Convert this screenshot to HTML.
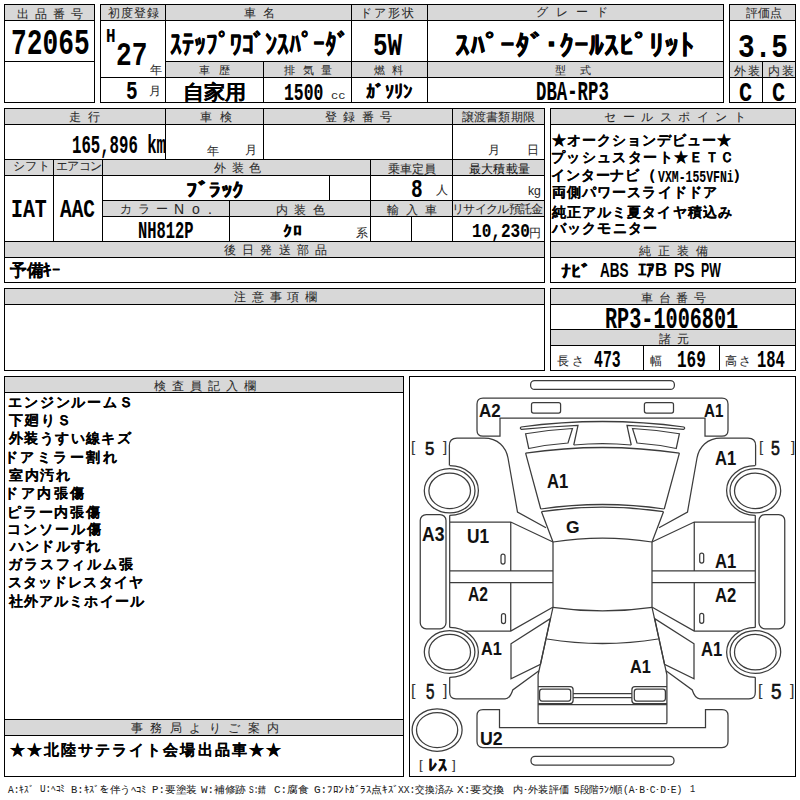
<!DOCTYPE html>
<html><head><meta charset="utf-8"><style>
html,body{margin:0;padding:0;background:#fff;}
body{width:800px;height:800px;position:relative;overflow:hidden;font-family:"Liberation Sans",sans-serif;color:#000;}
.t{position:absolute;white-space:nowrap;line-height:1;transform-origin:0 0;}
svg{position:absolute;left:0;top:0;}
body.iso .t{visibility:hidden;} body.iso .t.on{visibility:visible;}
</style></head><body>
<svg class="g" width="800" height="800" shape-rendering="crispEdges"><rect x="4" y="4" width="90" height="16" fill="#d8d8d8"/><rect x="100" y="4" width="623" height="16" fill="#d8d8d8"/><rect x="165" y="61" width="558" height="16" fill="#d8d8d8"/><rect x="729" y="4" width="66" height="16" fill="#d8d8d8"/><rect x="729" y="61" width="66" height="16" fill="#d8d8d8"/><rect x="4" y="108" width="540" height="16" fill="#d8d8d8"/><rect x="4" y="159" width="540" height="16" fill="#d8d8d8"/><rect x="102" y="200" width="442" height="16" fill="#d8d8d8"/><rect x="4" y="241" width="540" height="16" fill="#d8d8d8"/><rect x="550" y="108" width="245" height="16" fill="#d8d8d8"/><rect x="550" y="241" width="245" height="16" fill="#d8d8d8"/><rect x="4" y="288" width="540" height="16" fill="#d8d8d8"/><rect x="550" y="288" width="245" height="16" fill="#d8d8d8"/><rect x="550" y="329" width="245" height="16" fill="#d8d8d8"/><rect x="4" y="376" width="399" height="16" fill="#d8d8d8"/><rect x="4" y="719" width="399" height="16" fill="#d8d8d8"/><rect x="4" y="4" width="91" height="1"/><rect x="4" y="102" width="91" height="1"/><rect x="4" y="4" width="1" height="99"/><rect x="94" y="4" width="1" height="99"/><rect x="4" y="20" width="91" height="1"/><rect x="4" y="61" width="91" height="1"/><rect x="100" y="4" width="624" height="1"/><rect x="100" y="102" width="624" height="1"/><rect x="100" y="4" width="1" height="99"/><rect x="723" y="4" width="1" height="99"/><rect x="100" y="20" width="624" height="1"/><rect x="165" y="61" width="559" height="1"/><rect x="100" y="77" width="624" height="1"/><rect x="165" y="4" width="1" height="99"/><rect x="351" y="4" width="1" height="99"/><rect x="427" y="4" width="1" height="99"/><rect x="263" y="61" width="1" height="42"/><rect x="729" y="4" width="67" height="1"/><rect x="729" y="102" width="67" height="1"/><rect x="729" y="4" width="1" height="99"/><rect x="795" y="4" width="1" height="99"/><rect x="729" y="20" width="67" height="1"/><rect x="729" y="61" width="67" height="1"/><rect x="729" y="77" width="67" height="1"/><rect x="762" y="61" width="1" height="42"/><rect x="4" y="108" width="541" height="1"/><rect x="4" y="282" width="541" height="1"/><rect x="4" y="108" width="1" height="175"/><rect x="544" y="108" width="1" height="175"/><rect x="4" y="124" width="541" height="1"/><rect x="4" y="159" width="541" height="1"/><rect x="4" y="175" width="541" height="1"/><rect x="102" y="200" width="443" height="1"/><rect x="102" y="216" width="443" height="1"/><rect x="4" y="241" width="541" height="1"/><rect x="4" y="257" width="541" height="1"/><rect x="165" y="108" width="1" height="52"/><rect x="263" y="108" width="1" height="52"/><rect x="452" y="108" width="1" height="134"/><rect x="53" y="159" width="1" height="83"/><rect x="102" y="159" width="1" height="83"/><rect x="229" y="200" width="1" height="42"/><rect x="329" y="175" width="1" height="26"/><rect x="370" y="159" width="1" height="83"/><rect x="411" y="216" width="1" height="26"/><rect x="550" y="108" width="246" height="1"/><rect x="550" y="282" width="246" height="1"/><rect x="550" y="108" width="1" height="175"/><rect x="795" y="108" width="1" height="175"/><rect x="550" y="124" width="246" height="1"/><rect x="550" y="241" width="246" height="1"/><rect x="550" y="257" width="246" height="1"/><rect x="4" y="288" width="541" height="1"/><rect x="4" y="370" width="541" height="1"/><rect x="4" y="288" width="1" height="83"/><rect x="544" y="288" width="1" height="83"/><rect x="4" y="304" width="541" height="1"/><rect x="550" y="288" width="246" height="1"/><rect x="550" y="370" width="246" height="1"/><rect x="550" y="288" width="1" height="83"/><rect x="795" y="288" width="1" height="83"/><rect x="550" y="304" width="246" height="1"/><rect x="550" y="329" width="246" height="1"/><rect x="550" y="345" width="246" height="1"/><rect x="643" y="345" width="1" height="26"/><rect x="719" y="345" width="1" height="26"/><rect x="4" y="376" width="400" height="1"/><rect x="4" y="776" width="400" height="1"/><rect x="4" y="376" width="1" height="401"/><rect x="403" y="376" width="1" height="401"/><rect x="4" y="392" width="400" height="1"/><rect x="4" y="719" width="400" height="1"/><rect x="4" y="735" width="400" height="1"/><rect x="409" y="376" width="387" height="1"/><rect x="409" y="776" width="387" height="1"/><rect x="409" y="376" width="1" height="401"/><rect x="795" y="376" width="1" height="401"/></svg><svg class="car" width="800" height="800" viewBox="0 0 800 800"><g fill="none" stroke="#3c3c3c" stroke-width="1.25"><rect x="530.6" y="380.6" width="143.79999999999995" height="8.799999999999955" rx="4" ry="4"/><path d="M500 436.2 L483 436.2 Q477 436.2 477 430.2 L477 404.1 Q477 398.1 483 398.1 L722 398.1 Q728 398.1 728 404.1 L728 430.2 Q728 436.2 722 436.2 L705 436.2 L705 418 L500 418 Z"/><rect x="531.5" y="402.5" width="29.100000000000023" height="10.600000000000023" rx="2" ry="2"/><rect x="644.4" y="402.5" width="29.100000000000023" height="10.600000000000023" rx="2" ry="2"/><path d="M521 427 Q602.5 416 684 427"/><path d="M521 427 Q519.5 428.6 521.5 429.4 Q550 426.5 578 425.3 L573.75 445"/><path d="M525.6 433.75 Q548 429.8 572.5 428.5 L568 443 Q548 444.5 528.75 448.5 Z"/><path d="M525.6 453.2 L540.75 509 M541.5 511.7 L553 542"/><path d="M449.4 465.6 L449.4 445.5 Q449.4 438.1 457 438.1 L484 438.1 C498 438.1 506 447 508 458 L517.5 512 L546 527.7"/><ellipse cx="449.65" cy="490.8" rx="25.35" ry="22.1"/><ellipse cx="449.7" cy="490.8" rx="20.8" ry="17.8"/><path d="M449.7 465.7 A28.7 24.8 0 0 1 449.7 515.3"/><ellipse cx="449.6" cy="652.05" rx="25.3" ry="21.35"/><ellipse cx="449.7" cy="652.15" rx="20.8" ry="17.75"/><path d="M449.7 627.4 A28.7 24.95 0 0 1 449.7 677.3"/><rect x="420.25" y="514.5" width="25.75" height="114.25" rx="6" ry="6"/><path d="M449.7 515.3 L449.7 627.4 M449.5 522 L510.75 522 L553 542 M510.75 522 L510.75 570.75 M510.75 582.5 L510.75 631 M449.5 570.75 L553 570.75 M449.5 582.5 L553 582.5 M465 631 L510.75 631 L552.75 607.3"/><path d="M553 542 L553 607.3 L538.1 674.8 L538.1 723.6"/><path d="M511 643.75 L550.3 618.7 L540.5 664.2 L511 678.75 Z"/><path d="M449.7 677.3 L449.7 692 Q449.5 698.75 456 698.75 L505 698.75 Q510 698.75 512.75 690 L539 670.7"/><path d="M538.1 686.7 L570.1 686.7 A3 3 0 0 1 573.1 689.7 L573.1 700.6 A3 3 0 0 1 570.1 703.6 L538.1 703.6"/><rect x="539.6" y="689.2" width="31.100000000000023" height="11.899999999999977" rx="2.5" ry="2.5"/><path d="M684.0 427 Q685.5 428.6 683.5 429.4 Q655.0 426.5 627.0 425.3 L631.25 445"/><path d="M679.4 433.75 Q657.0 429.8 632.5 428.5 L637.0 443 Q657.0 444.5 676.25 448.5 Z"/><path d="M679.4 453.2 L664.25 509 M663.5 511.7 L652.0 542"/><path d="M755.6 465.6 L755.6 445.5 Q755.6 438.1 748.0 438.1 L721.0 438.1 C707.0 438.1 699.0 447 697.0 458 L687.5 512 L659.0 527.7"/><ellipse cx="755.35" cy="490.8" rx="25.35" ry="22.1"/><ellipse cx="755.3" cy="490.8" rx="20.8" ry="17.8"/><path d="M755.3 465.7 A28.7 24.8 0 0 0 755.3 515.3"/><ellipse cx="755.4" cy="652.05" rx="25.3" ry="21.35"/><ellipse cx="755.3" cy="652.15" rx="20.8" ry="17.75"/><path d="M755.3 627.4 A28.7 24.95 0 0 0 755.3 677.3"/><rect x="759.0" y="514.5" width="25.75" height="114.25" rx="6" ry="6"/><path d="M755.3 515.3 L755.3 627.4 M755.5 522 L694.25 522 L652.0 542 M694.25 522 L694.25 570.75 M694.25 582.5 L694.25 631 M755.5 570.75 L652.0 570.75 M755.5 582.5 L652.0 582.5 M740.0 631 L694.25 631 L652.25 607.3"/><path d="M652.0 542 L652.0 607.3 L666.9 674.8 L666.9 723.6"/><path d="M694.0 643.75 L654.7 618.7 L664.5 664.2 L694.0 678.75 Z"/><path d="M755.3 677.3 L755.3 692 Q755.5 698.75 749.0 698.75 L700.0 698.75 Q695.0 698.75 692.25 690 L666.0 670.7"/><path d="M666.9 686.7 L634.9 686.7 A3 3 0 0 0 631.9 689.7 L631.9 700.6 A3 3 0 0 0 634.9 703.6 L666.9 703.6"/><rect x="634.3" y="689.2" width="31.100000000000023" height="11.899999999999977" rx="2.5" ry="2.5"/><path d="M573.75 445 Q602.5 442 631.25 445"/><path d="M525.6 453.2 Q602.5 441.8 679.4 453.2"/><path d="M540.75 509 Q602.5 500 664.25 509"/><path d="M541.5 511.7 Q602.5 502.7 663.5 511.7"/><path d="M553 542 Q602.5 534.4 652 542"/><path d="M552.75 607.3 Q602.5 614.5 652.25 607.3"/><path d="M547 639 Q602.5 648 658 639"/><path d="M573.1 693.5 L631.9 693.5 M573.1 697.6 L631.9 697.6"/><path d="M538.1 704.5 L666.9 704.5 M538.1 723.6 L666.9 723.6"/><path d="M499.5 709.5 L483 709.5 Q477 709.5 477 715.5 L477 741.5 Q477 747.5 483 747.5 L722 747.5 Q728 747.5 728 741.5 L728 715.5 Q728 709.5 722 709.5 L705.5 709.5 L705.5 727.5 L499.5 727.5 Z"/><rect x="531" y="756.25" width="143" height="8.75" rx="4" ry="4"/><ellipse cx="437.1" cy="730" rx="25" ry="21.25"/><ellipse cx="437.1" cy="730" rx="20.6" ry="17.5"/><rect x="501" y="554" width="4" height="10" rx="2" ry="2"/><rect x="501.5" y="613.5" width="4" height="10" rx="2" ry="2"/><rect x="699.7" y="553" width="4" height="10" rx="2" ry="2"/><rect x="699.7" y="613.3" width="4" height="10" rx="2" ry="2"/></g></svg>
<div class="t" id="h_shuppin" style="left:17.00px;top:8.20px;font-size:12.00px;letter-spacing:6.13px;color:#2a2a2a;-webkit-text-stroke:0.06px #2a2a2a;">出品番号</div>
<div class="t" id="h_shodo" style="left:108.00px;top:7.20px;font-size:12.00px;letter-spacing:1.07px;color:#2a2a2a;-webkit-text-stroke:0.06px #2a2a2a;">初度登録</div>
<div class="t" id="h_shamei" style="left:244.00px;top:7.20px;font-size:12.00px;letter-spacing:7.20px;color:#2a2a2a;-webkit-text-stroke:0.06px #2a2a2a;">車名</div>
<div class="t" id="h_door" style="left:360.00px;top:7.20px;font-size:12.00px;letter-spacing:1.87px;color:#2a2a2a;-webkit-text-stroke:0.06px #2a2a2a;">ドア形状</div>
<div class="t" id="h_grade" style="left:536.00px;top:6.20px;font-size:12.00px;letter-spacing:8.00px;color:#2a2a2a;-webkit-text-stroke:0.06px #2a2a2a;">グレード</div>
<div class="t" id="h_hyoka" style="left:746.00px;top:7.20px;font-size:12.00px;color:#2a2a2a;-webkit-text-stroke:0.06px #2a2a2a;">評価点</div>
<div class="t" id="v_no" style="left:11.00px;top:26.50px;font-size:36.22px;font-weight:bold;font-family:'Liberation Mono',monospace;transform:scaleX(0.7240);-webkit-text-stroke:0.06px #000;">72065</div>
<div class="t" id="v_H" style="left:106.00px;top:26.60px;font-size:19.85px;font-weight:bold;font-family:'Liberation Mono',monospace;transform:scaleX(0.8011);-webkit-text-stroke:0.06px #000;">H</div>
<div class="t" id="v_27" style="left:116.00px;top:39.80px;font-size:33.16px;font-weight:bold;font-family:'Liberation Mono',monospace;transform:scaleX(0.7883);-webkit-text-stroke:0.06px #000;">27</div>
<div class="t" id="v_nen" style="left:150.00px;top:64.20px;font-size:12.00px;color:#2a2a2a;-webkit-text-stroke:0.06px #2a2a2a;">年</div>
<div class="t" id="v_5m" style="left:126.00px;top:80.00px;font-size:25.18px;font-weight:bold;font-family:'Liberation Mono',monospace;transform:scaleX(0.7719);-webkit-text-stroke:0.06px #000;">5</div>
<div class="t" id="v_tsuki" style="left:149.00px;top:85.20px;font-size:12.00px;color:#2a2a2a;-webkit-text-stroke:0.06px #2a2a2a;">月</div>
<div class="t" id="v_name" style="left:170.00px;top:30.80px;font-size:28.04px;font-weight:bold;transform:scaleX(0.8520);-webkit-text-stroke:0.06px #000;">ｽﾃｯﾌﾟﾜｺﾞﾝｽﾊﾟｰﾀﾞ</div>
<div class="t" id="v_5w" style="left:373.00px;top:31.10px;font-size:31.08px;font-weight:bold;font-family:'Liberation Mono',monospace;transform:scaleX(0.7819);-webkit-text-stroke:0.06px #000;">5W</div>
<div class="t" id="v_grade" style="left:455.00px;top:31.80px;font-size:28.00px;font-weight:bold;transform:scaleX(1.0649);-webkit-text-stroke:0.06px #000;">ｽﾊﾟｰﾀﾞ･ｸｰﾙｽﾋﾟﾘｯﾄ</div>
<div class="t" id="v_35" style="left:738.00px;top:31.80px;font-size:33.16px;font-weight:bold;font-family:'Liberation Mono',monospace;transform:scaleX(0.8358);-webkit-text-stroke:0.06px #000;">3.5</div>
<div class="t" id="h_shareki" style="left:199.00px;top:65.35px;font-size:11.00px;letter-spacing:8.80px;color:#2a2a2a;-webkit-text-stroke:0.06px #2a2a2a;">車歴</div>
<div class="t" id="h_haiki" style="left:284.00px;top:65.35px;font-size:11.00px;letter-spacing:7.60px;color:#2a2a2a;-webkit-text-stroke:0.06px #2a2a2a;">排気量</div>
<div class="t" id="h_nenryo" style="left:374.00px;top:65.35px;font-size:11.00px;letter-spacing:7.20px;color:#2a2a2a;-webkit-text-stroke:0.06px #2a2a2a;">燃料</div>
<div class="t" id="h_katashiki" style="left:555.00px;top:65.35px;font-size:11.00px;letter-spacing:13.60px;color:#2a2a2a;-webkit-text-stroke:0.06px #2a2a2a;">型式</div>
<div class="t" id="h_gaiso" style="left:734.00px;top:65.20px;font-size:12.00px;letter-spacing:1.60px;color:#2a2a2a;-webkit-text-stroke:0.06px #2a2a2a;">外装</div>
<div class="t" id="h_naiso" style="left:768.00px;top:65.20px;font-size:12.00px;letter-spacing:1.60px;color:#2a2a2a;-webkit-text-stroke:0.06px #2a2a2a;">内装</div>
<div class="t" id="v_jika" style="left:183.00px;top:81.70px;font-size:20.31px;font-weight:bold;transform:scaleX(1.0542);-webkit-text-stroke:0.06px #000;">自家用</div>
<div class="t" id="v_1500" style="left:284.00px;top:82.00px;font-size:23.91px;font-weight:bold;font-family:'Liberation Mono',monospace;transform:scaleX(0.6864);-webkit-text-stroke:0.06px #000;">1500</div>
<div class="t" id="v_cc" style="left:331.00px;top:91.35px;font-size:11.00px;font-family:'Liberation Mono',monospace;transform:scaleX(1.0964);color:#2a2a2a;-webkit-text-stroke:0.06px #2a2a2a;">cc</div>
<div class="t" id="v_gas" style="left:366.00px;top:83.00px;font-size:18.09px;font-weight:bold;transform:scaleX(1.0285);-webkit-text-stroke:0.06px #000;">ｶﾞｿﾘﾝ</div>
<div class="t" id="v_kata" style="left:536.00px;top:79.70px;font-size:26.97px;font-weight:bold;font-family:'Liberation Mono',monospace;transform:scaleX(0.6426);-webkit-text-stroke:0.06px #000;">DBA-RP3</div>
<div class="t" id="v_c1" style="left:739.00px;top:80.70px;font-size:26.97px;font-weight:bold;font-family:'Liberation Mono',monospace;transform:scaleX(0.8109);-webkit-text-stroke:0.06px #000;">C</div>
<div class="t" id="v_c2" style="left:772.00px;top:80.70px;font-size:26.97px;font-weight:bold;font-family:'Liberation Mono',monospace;transform:scaleX(0.8109);-webkit-text-stroke:0.06px #000;">C</div>
<div class="t" id="h_soko" style="left:69.00px;top:111.20px;font-size:12.00px;letter-spacing:7.20px;color:#2a2a2a;-webkit-text-stroke:0.06px #2a2a2a;">走行</div>
<div class="t" id="h_shaken" style="left:200.00px;top:111.20px;font-size:12.00px;letter-spacing:8.00px;color:#2a2a2a;-webkit-text-stroke:0.06px #2a2a2a;">車検</div>
<div class="t" id="h_toroku" style="left:325.00px;top:111.20px;font-size:12.00px;letter-spacing:6.40px;color:#2a2a2a;-webkit-text-stroke:0.06px #2a2a2a;">登録番号</div>
<div class="t" id="h_joto" style="left:462.00px;top:111.20px;font-size:12.00px;letter-spacing:0.16px;color:#2a2a2a;-webkit-text-stroke:0.06px #2a2a2a;">譲渡書類期限</div>
<div class="t" id="v_km" style="left:72.00px;top:134.40px;font-size:24.89px;font-weight:bold;font-family:'Liberation Mono',monospace;transform:scaleX(0.6296);-webkit-text-stroke:0.06px #000;">165,896 km</div>
<div class="t" id="v_sk_nen" style="left:207.00px;top:145.20px;font-size:12.00px;color:#2a2a2a;-webkit-text-stroke:0.06px #2a2a2a;">年</div>
<div class="t" id="v_sk_tsuki" style="left:245.00px;top:144.20px;font-size:12.00px;color:#2a2a2a;-webkit-text-stroke:0.06px #2a2a2a;">月</div>
<div class="t" id="v_jt_tsuki" style="left:488.00px;top:144.20px;font-size:12.00px;color:#2a2a2a;-webkit-text-stroke:0.06px #2a2a2a;">月</div>
<div class="t" id="v_jt_hi" style="left:527.00px;top:144.20px;font-size:12.00px;color:#2a2a2a;-webkit-text-stroke:0.06px #2a2a2a;">日</div>
<div class="t" id="h_sales" style="left:604.00px;top:111.20px;font-size:12.00px;letter-spacing:6.51px;color:#2a2a2a;-webkit-text-stroke:0.06px #2a2a2a;">セールスポイント</div>
<div class="t" id="v_sp1" style="left:552.00px;top:132.75px;font-size:14.00px;font-weight:bold;letter-spacing:1.00px;-webkit-text-stroke:0.06px #000;">★オークションデビュー★</div>
<div class="t" id="v_sp2" style="left:551.00px;top:149.75px;font-size:14.00px;font-weight:bold;letter-spacing:1.36px;-webkit-text-stroke:0.06px #000;">プッシュスタート★ＥＴＣ</div>
<div class="t" id="v_sp3" style="left:551.00px;top:167.75px;font-size:14.00px;font-weight:bold;letter-spacing:0.84px;-webkit-text-stroke:0.06px #000;">インターナビ</div>
<div class="t" id="v_sp3b" style="left:641.00px;top:166.75px;font-size:15.00px;font-weight:bold;-webkit-text-stroke:0.06px #000;">（</div>
<div class="t" id="v_sp3c" style="left:658.00px;top:169.75px;font-size:16.19px;font-weight:bold;font-family:'Liberation Mono',monospace;transform:scaleX(0.7090);-webkit-text-stroke:0.06px #000;">VXM-155VFNi</div>
<div class="t" id="v_sp3d" style="left:733.00px;top:166.75px;font-size:15.00px;font-weight:bold;-webkit-text-stroke:0.06px #000;">）</div>
<div class="t" id="v_sp4" style="left:552.00px;top:184.75px;font-size:14.00px;font-weight:bold;letter-spacing:1.08px;-webkit-text-stroke:0.06px #000;">両側パワースライドドア</div>
<div class="t" id="v_sp5" style="left:552.00px;top:204.75px;font-size:14.00px;font-weight:bold;letter-spacing:1.07px;-webkit-text-stroke:0.06px #000;">純正アルミ夏タイヤ積込み</div>
<div class="t" id="v_sp6" style="left:552.00px;top:220.75px;font-size:14.00px;font-weight:bold;letter-spacing:1.13px;-webkit-text-stroke:0.06px #000;">バックモニター</div>
<div class="t" id="h_shift" style="left:13.00px;top:160.20px;font-size:12.00px;letter-spacing:0.40px;color:#2a2a2a;-webkit-text-stroke:0.06px #2a2a2a;">シフト</div>
<div class="t" id="h_aircon" style="left:56.00px;top:160.20px;font-size:12.00px;letter-spacing:-0.53px;color:#2a2a2a;-webkit-text-stroke:0.06px #2a2a2a;">エアコン</div>
<div class="t" id="h_gaisoshoku" style="left:214.00px;top:162.20px;font-size:12.00px;letter-spacing:5.60px;color:#2a2a2a;-webkit-text-stroke:0.06px #2a2a2a;">外装色</div>
<div class="t" id="h_joshateiin" style="left:388.00px;top:163.20px;font-size:12.00px;color:#2a2a2a;-webkit-text-stroke:0.06px #2a2a2a;">乗車定員</div>
<div class="t" id="h_saidai" style="left:469.00px;top:163.20px;font-size:12.00px;letter-spacing:0.20px;color:#111;-webkit-text-stroke:0.06px #111;">最大積載量</div>
<div class="t" id="v_iat" style="left:11.00px;top:197.70px;font-size:25.78px;font-weight:bold;font-family:'Liberation Mono',monospace;transform:scaleX(0.7702);-webkit-text-stroke:0.06px #000;">IAT</div>
<div class="t" id="v_aac" style="left:60.00px;top:197.70px;font-size:25.78px;font-weight:bold;font-family:'Liberation Mono',monospace;transform:scaleX(0.7536);-webkit-text-stroke:0.06px #000;">AAC</div>
<div class="t" id="v_black" style="left:186.00px;top:180.00px;font-size:20.00px;font-weight:bold;transform:scaleX(1.1520);-webkit-text-stroke:0.06px #000;">ﾌﾞﾗｯｸ</div>
<div class="t" id="v_8" style="left:411.00px;top:178.00px;font-size:25.18px;font-weight:bold;font-family:'Liberation Mono',monospace;transform:scaleX(0.7719);-webkit-text-stroke:0.06px #000;">8</div>
<div class="t" id="v_nin" style="left:436.00px;top:184.20px;font-size:12.00px;color:#2a2a2a;-webkit-text-stroke:0.06px #2a2a2a;">人</div>
<div class="t" id="v_kg" style="left:528.00px;top:184.05px;font-size:13.15px;transform:scaleX(0.9316);color:#2a2a2a;-webkit-text-stroke:0.06px #2a2a2a;">kg</div>
<div class="t" id="h_colorno" style="left:120.00px;top:203.20px;font-size:12.00px;letter-spacing:6.00px;color:#2a2a2a;-webkit-text-stroke:0.06px #2a2a2a;">カラー</div>
<div class="t" id="h_colorno2" style="left:174.00px;top:201.90px;font-size:14.00px;letter-spacing:8.00px;color:#2a2a2a;-webkit-text-stroke:0.06px #2a2a2a;">No.</div>
<div class="t" id="h_naisoshoku" style="left:276.00px;top:204.20px;font-size:12.00px;letter-spacing:6.40px;color:#2a2a2a;-webkit-text-stroke:0.06px #2a2a2a;">内装色</div>
<div class="t" id="h_yunyu" style="left:387.00px;top:204.20px;font-size:12.00px;letter-spacing:6.80px;color:#2a2a2a;-webkit-text-stroke:0.06px #2a2a2a;">輸入車</div>
<div class="t" id="h_recycle" style="left:452.00px;top:203.20px;font-size:12.00px;letter-spacing:-0.69px;color:#2a2a2a;-webkit-text-stroke:0.06px #2a2a2a;">リサイクル預託金</div>
<div class="t" id="v_nh" style="left:138.00px;top:220.00px;font-size:23.91px;font-weight:bold;font-family:'Liberation Mono',monospace;transform:scaleX(0.6454);-webkit-text-stroke:0.06px #000;">NH812P</div>
<div class="t" id="v_kuro" style="left:283.00px;top:224.30px;font-size:14.92px;font-weight:bold;transform:scaleX(1.1951);-webkit-text-stroke:0.06px #000;">ｸﾛ</div>
<div class="t" id="v_kei" style="left:356.00px;top:227.20px;font-size:12.00px;color:#2a2a2a;-webkit-text-stroke:0.06px #2a2a2a;">系</div>
<div class="t" id="v_recycle" style="left:472.00px;top:223.00px;font-size:19.44px;font-weight:bold;font-family:'Liberation Mono',monospace;transform:scaleX(0.8273);-webkit-text-stroke:0.06px #000;">10,230</div>
<div class="t" id="v_en" style="left:529.00px;top:227.20px;font-size:12.00px;color:#2a2a2a;-webkit-text-stroke:0.06px #2a2a2a;">円</div>
<div class="t" id="h_gojitsu" style="left:224.00px;top:244.20px;font-size:12.00px;letter-spacing:6.24px;color:#2a2a2a;-webkit-text-stroke:0.06px #2a2a2a;">後日発送部品</div>
<div class="t" id="h_junsei" style="left:639.00px;top:245.20px;font-size:12.00px;letter-spacing:6.93px;color:#2a2a2a;-webkit-text-stroke:0.06px #2a2a2a;">純正装備</div>
<div class="t" id="v_yobi" style="left:10.00px;top:262.45px;font-size:17.00px;font-weight:bold;transform:scaleX(0.9820);-webkit-text-stroke:0.06px #000;">予備ｷｰ</div>
<div class="t" id="v_js1" style="left:561.00px;top:263.30px;font-size:18.00px;font-weight:bold;transform:scaleX(1.1183);-webkit-text-stroke:0.06px #000;">ﾅﾋﾞ</div>
<div class="t" id="v_js2" style="left:600.00px;top:260.30px;font-size:20.46px;font-weight:bold;transform:scaleX(0.6622);-webkit-text-stroke:0.06px #000;">ABS</div>
<div class="t" id="v_js3" style="left:638.00px;top:261.30px;font-size:18.00px;font-weight:bold;transform:scaleX(0.9398);-webkit-text-stroke:0.06px #000;">ｴｱB</div>
<div class="t" id="v_js4" style="left:674.00px;top:260.30px;font-size:20.46px;font-weight:bold;transform:scaleX(0.7574);-webkit-text-stroke:0.06px #000;">PS</div>
<div class="t" id="v_js5" style="left:701.00px;top:260.30px;font-size:20.46px;font-weight:bold;transform:scaleX(0.6015);-webkit-text-stroke:0.06px #000;">PW</div>
<div class="t" id="h_chui" style="left:234.00px;top:291.20px;font-size:12.00px;letter-spacing:5.80px;color:#2a2a2a;-webkit-text-stroke:0.06px #2a2a2a;">注意事項欄</div>
<div class="t" id="h_shadai" style="left:641.00px;top:292.20px;font-size:12.00px;letter-spacing:5.60px;color:#2a2a2a;-webkit-text-stroke:0.06px #2a2a2a;">車台番号</div>
<div class="t" id="v_shadai" style="left:605.00px;top:306.10px;font-size:29.83px;font-weight:bold;font-family:'Liberation Mono',monospace;transform:scaleX(0.6765);-webkit-text-stroke:0.06px #000;">RP3-1006801</div>
<div class="t" id="h_shogen" style="left:659.00px;top:333.20px;font-size:12.00px;letter-spacing:5.60px;color:#2a2a2a;-webkit-text-stroke:0.06px #2a2a2a;">諸元</div>
<div class="t" id="v_naga" style="left:557.00px;top:355.20px;font-size:12.00px;letter-spacing:3.20px;color:#2a2a2a;-webkit-text-stroke:0.06px #2a2a2a;">長さ</div>
<div class="t" id="v_473" style="left:594.00px;top:349.00px;font-size:23.91px;font-weight:bold;font-family:'Liberation Mono',monospace;transform:scaleX(0.6195);-webkit-text-stroke:0.06px #000;">473</div>
<div class="t" id="v_haba" style="left:650.00px;top:355.20px;font-size:12.00px;color:#2a2a2a;-webkit-text-stroke:0.06px #2a2a2a;">幅</div>
<div class="t" id="v_169" style="left:677.00px;top:349.00px;font-size:23.91px;font-weight:bold;font-family:'Liberation Mono',monospace;transform:scaleX(0.6694);-webkit-text-stroke:0.06px #000;">169</div>
<div class="t" id="v_taka" style="left:725.00px;top:355.20px;font-size:12.00px;letter-spacing:2.40px;color:#2a2a2a;-webkit-text-stroke:0.06px #2a2a2a;">高さ</div>
<div class="t" id="v_184" style="left:757.00px;top:349.00px;font-size:23.91px;font-weight:bold;font-family:'Liberation Mono',monospace;transform:scaleX(0.6481);-webkit-text-stroke:0.06px #000;">184</div>
<div class="t" id="h_kensa" style="left:154.00px;top:380.20px;font-size:12.00px;letter-spacing:6.08px;color:#2a2a2a;-webkit-text-stroke:0.06px #2a2a2a;">検査員記入欄</div>
<div class="t" id="v_insp0" style="left:8.00px;top:394.75px;font-size:14.00px;font-weight:bold;letter-spacing:1.84px;-webkit-text-stroke:0.06px #000;">エンジンルームＳ</div>
<div class="t" id="v_insp1" style="left:9.00px;top:412.75px;font-size:14.00px;font-weight:bold;letter-spacing:2.03px;-webkit-text-stroke:0.06px #000;">下廻りＳ</div>
<div class="t" id="v_insp2" style="left:9.00px;top:430.75px;font-size:14.00px;font-weight:bold;letter-spacing:1.39px;-webkit-text-stroke:0.06px #000;">外装うすい線キズ</div>
<div class="t" id="v_insp3" style="left:4.00px;top:449.75px;font-size:14.00px;font-weight:bold;letter-spacing:2.43px;-webkit-text-stroke:0.06px #000;">ドアミラー割れ</div>
<div class="t" id="v_insp4" style="left:9.00px;top:467.75px;font-size:14.00px;font-weight:bold;letter-spacing:1.50px;-webkit-text-stroke:0.06px #000;">室内汚れ</div>
<div class="t" id="v_insp5" style="left:4.00px;top:485.75px;font-size:14.00px;font-weight:bold;letter-spacing:2.50px;-webkit-text-stroke:0.06px #000;">ドア内張傷</div>
<div class="t" id="v_insp6" style="left:7.00px;top:504.75px;font-size:14.00px;font-weight:bold;letter-spacing:1.82px;-webkit-text-stroke:0.06px #000;">ピラー内張傷</div>
<div class="t" id="v_insp7" style="left:7.00px;top:521.75px;font-size:14.00px;font-weight:bold;letter-spacing:1.98px;-webkit-text-stroke:0.06px #000;">コンソール傷</div>
<div class="t" id="v_insp8" style="left:10.00px;top:538.75px;font-size:14.00px;font-weight:bold;letter-spacing:1.18px;-webkit-text-stroke:0.06px #000;">ハンドルすれ</div>
<div class="t" id="v_insp9" style="left:8.00px;top:556.75px;font-size:14.00px;font-weight:bold;letter-spacing:1.84px;-webkit-text-stroke:0.06px #000;">ガラスフィルム張</div>
<div class="t" id="v_insp10" style="left:8.00px;top:574.75px;font-size:14.00px;font-weight:bold;letter-spacing:1.10px;-webkit-text-stroke:0.06px #000;">スタッドレスタイヤ</div>
<div class="t" id="v_insp11" style="left:9.00px;top:593.75px;font-size:14.00px;font-weight:bold;letter-spacing:1.10px;-webkit-text-stroke:0.06px #000;">社外アルミホイール</div>
<div class="t" id="h_jimu" style="left:131.00px;top:722.20px;font-size:12.00px;letter-spacing:7.43px;color:#2a2a2a;-webkit-text-stroke:0.06px #2a2a2a;">事務局よりご案内</div>
<div class="t" id="v_jimu" style="left:10.00px;top:742.45px;font-size:15.00px;font-weight:bold;letter-spacing:2.05px;-webkit-text-stroke:0.06px #000;">★★北陸サテライト会場出品車★★</div>
<div class="t" id="f1" style="left:8.00px;top:785.50px;font-size:10.00px;font-family:'Liberation Mono',monospace;transform:scaleX(0.9493);color:#222;-webkit-text-stroke:0.06px #222;">A:ｷｽﾞ</div>
<div class="t" id="f2" style="left:40.00px;top:784.50px;font-size:10.00px;font-family:'Liberation Mono',monospace;transform:scaleX(0.9263);color:#222;-webkit-text-stroke:0.06px #222;">U:ﾍｺﾐ</div>
<div class="t" id="f3" style="left:71.00px;top:785.50px;font-size:10.00px;font-family:'Liberation Mono',monospace;transform:scaleX(1.0522);color:#222;-webkit-text-stroke:0.06px #222;">B:ｷｽﾞを伴うﾍｺﾐ</div>
<div class="t" id="f4" style="left:152.00px;top:785.50px;font-size:10.00px;font-family:'Liberation Mono',monospace;transform:scaleX(1.0690);color:#222;-webkit-text-stroke:0.06px #222;">P:要塗装</div>
<div class="t" id="f5" style="left:201.00px;top:785.50px;font-size:10.00px;font-family:'Liberation Mono',monospace;transform:scaleX(1.0751);color:#222;-webkit-text-stroke:0.06px #222;">W:補修跡</div>
<div class="t" id="f6" style="left:249.00px;top:785.50px;font-size:10.00px;font-family:'Liberation Mono',monospace;transform:scaleX(0.7873);color:#222;-webkit-text-stroke:0.06px #222;">S:錆</div>
<div class="t" id="f7" style="left:274.00px;top:785.50px;font-size:10.00px;font-family:'Liberation Mono',monospace;transform:scaleX(1.0953);color:#222;-webkit-text-stroke:0.06px #222;">C:腐食</div>
<div class="t" id="f8" style="left:314.00px;top:785.50px;font-size:10.00px;font-family:'Liberation Mono',monospace;transform:scaleX(1.0983);color:#222;-webkit-text-stroke:0.06px #222;">G:ﾌﾛﾝﾄｶﾞﾗｽ点ｷｽﾞ</div>
<div class="t" id="f9" style="left:398.00px;top:785.50px;font-size:10.00px;font-family:'Liberation Mono',monospace;transform:scaleX(0.9675);color:#222;-webkit-text-stroke:0.06px #222;">XX:交換済み</div>
<div class="t" id="f10" style="left:457.00px;top:785.50px;font-size:10.00px;font-family:'Liberation Mono',monospace;transform:scaleX(1.1241);color:#222;-webkit-text-stroke:0.06px #222;">X:要交換</div>
<div class="t" id="f11" style="left:513.00px;top:785.50px;font-size:10.00px;font-family:'Liberation Mono',monospace;transform:scaleX(1.0173);color:#222;-webkit-text-stroke:0.06px #222;">内･外装評価</div>
<div class="t" id="f12" style="left:574.00px;top:785.50px;font-size:10.00px;font-family:'Liberation Mono',monospace;transform:scaleX(0.9587);color:#222;-webkit-text-stroke:0.06px #222;">5段階ﾗﾝｸ順(A･B･C･D･E)</div>
<div class="t" id="f13" style="left:690.00px;top:784.50px;font-size:10.00px;font-family:'Liberation Mono',monospace;transform:scaleX(0.8582);color:#222;-webkit-text-stroke:0.06px #222;">1</div>
<div class="t" id="c_a2top" style="left:479.00px;top:401.60px;font-size:18.39px;font-weight:bold;transform:scaleX(0.9242);color:#111;-webkit-text-stroke:0.06px #111;">A2</div>
<div class="t" id="c_a1top" style="left:704.00px;top:401.60px;font-size:18.39px;font-weight:bold;transform:scaleX(0.8252);color:#111;-webkit-text-stroke:0.06px #111;">A1</div>
<div class="t" id="c_a1fr" style="left:715.00px;top:448.60px;font-size:19.50px;font-weight:bold;transform:scaleX(0.8516);color:#111;-webkit-text-stroke:0.06px #111;">A1</div>
<div class="t" id="c_a1ws" style="left:547.00px;top:471.60px;font-size:19.50px;font-weight:bold;transform:scaleX(0.8516);color:#111;-webkit-text-stroke:0.06px #111;">A1</div>
<div class="t" id="c_g" style="left:566.00px;top:519.60px;font-size:16.00px;font-weight:bold;transform:scaleX(1.0896);color:#111;-webkit-text-stroke:0.06px #111;">G</div>
<div class="t" id="c_a3" style="left:422.00px;top:524.60px;font-size:19.50px;font-weight:bold;transform:scaleX(0.9002);color:#111;-webkit-text-stroke:0.06px #111;">A3</div>
<div class="t" id="c_u1" style="left:467.00px;top:526.60px;font-size:19.50px;font-weight:bold;transform:scaleX(0.8898);color:#111;-webkit-text-stroke:0.06px #111;">U1</div>
<div class="t" id="c_a1rd" style="left:715.00px;top:551.60px;font-size:19.50px;font-weight:bold;transform:scaleX(0.8516);color:#111;-webkit-text-stroke:0.06px #111;">A1</div>
<div class="t" id="c_a2ld" style="left:468.00px;top:584.60px;font-size:19.50px;font-weight:bold;transform:scaleX(0.8011);color:#111;-webkit-text-stroke:0.06px #111;">A2</div>
<div class="t" id="c_a2rd" style="left:715.00px;top:585.60px;font-size:19.50px;font-weight:bold;transform:scaleX(0.8516);color:#111;-webkit-text-stroke:0.06px #111;">A2</div>
<div class="t" id="c_a1lq" style="left:481.00px;top:639.60px;font-size:18.39px;font-weight:bold;transform:scaleX(0.8845);color:#111;-webkit-text-stroke:0.06px #111;">A1</div>
<div class="t" id="c_a1rq" style="left:701.00px;top:639.60px;font-size:19.50px;font-weight:bold;transform:scaleX(0.8516);color:#111;-webkit-text-stroke:0.06px #111;">A1</div>
<div class="t" id="c_a1rr" style="left:630.00px;top:657.60px;font-size:18.39px;font-weight:bold;transform:scaleX(0.8845);color:#111;-webkit-text-stroke:0.06px #111;">A1</div>
<div class="t" id="c_u2" style="left:480.00px;top:729.60px;font-size:18.39px;font-weight:bold;transform:scaleX(0.9657);color:#111;-webkit-text-stroke:0.06px #111;">U2</div>
<div class="t" id="c_res" style="left:428.00px;top:756.60px;font-size:17.25px;font-weight:bold;transform:scaleX(1.0745);color:#111;-webkit-text-stroke:0.06px #111;">ﾚｽ</div>
<div class="t" id="b1l" style="left:411.00px;top:438.75px;font-size:15.00px;color:#333;-webkit-text-stroke:0.06px #333;">[</div>
<div class="t" id="b1r" style="left:443.00px;top:438.75px;font-size:15.00px;color:#333;-webkit-text-stroke:0.06px #333;">]</div>
<div class="t" id="b2l" style="left:759.00px;top:438.75px;font-size:15.00px;color:#333;-webkit-text-stroke:0.06px #333;">[</div>
<div class="t" id="b2r" style="left:791.00px;top:438.75px;font-size:15.00px;color:#333;-webkit-text-stroke:0.06px #333;">]</div>
<div class="t" id="b3l" style="left:411.00px;top:682.75px;font-size:15.92px;color:#333;-webkit-text-stroke:0.06px #333;">[</div>
<div class="t" id="b3r" style="left:443.00px;top:682.75px;font-size:15.92px;color:#333;-webkit-text-stroke:0.06px #333;">]</div>
<div class="t" id="b4l" style="left:758.00px;top:682.75px;font-size:15.92px;color:#333;-webkit-text-stroke:0.06px #333;">[</div>
<div class="t" id="b4r" style="left:790.00px;top:682.75px;font-size:15.92px;color:#333;-webkit-text-stroke:0.06px #333;">]</div>
<div class="t" id="b5l" style="left:419.00px;top:757.75px;font-size:13.42px;color:#333;-webkit-text-stroke:0.06px #333;">[</div>
<div class="t" id="b5r" style="left:452.00px;top:757.75px;font-size:13.42px;color:#333;-webkit-text-stroke:0.06px #333;">]</div>
<div class="t" id="c_5a" style="left:425.00px;top:439.60px;font-size:18.39px;transform:scaleX(0.9123);color:#111;-webkit-text-stroke:0.6px #111;">5</div>
<div class="t" id="c_5b" style="left:771.00px;top:438.60px;font-size:19.50px;transform:scaleX(0.8205);color:#111;-webkit-text-stroke:0.6px #111;">5</div>
<div class="t" id="c_5c" style="left:426.00px;top:680.60px;font-size:21.85px;transform:scaleX(0.6973);color:#111;-webkit-text-stroke:0.6px #111;">5</div>
<div class="t" id="c_5d" style="left:771.00px;top:680.60px;font-size:21.85px;transform:scaleX(0.8658);color:#111;-webkit-text-stroke:0.6px #111;">5</div>
</body></html>
